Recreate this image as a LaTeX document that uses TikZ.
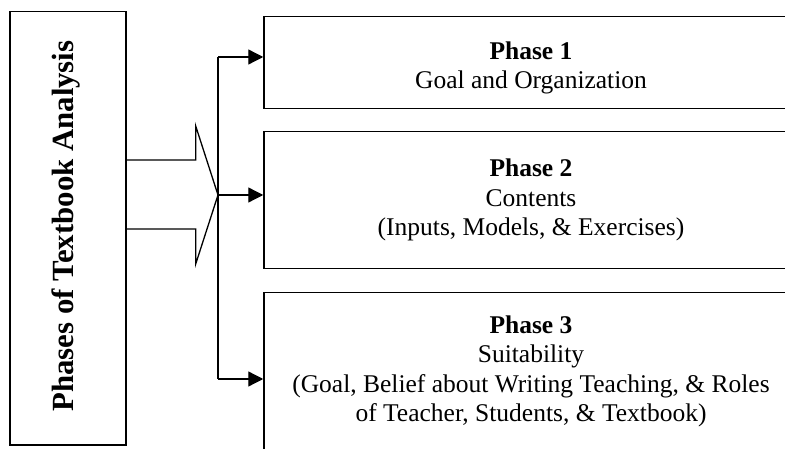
\documentclass[tikz,border=0pt]{standalone}
\usepackage{fontspec}
\setmainfont{Liberation Serif}
\usetikzlibrary{arrows.meta}
\begin{document}
\begin{tikzpicture}[x=1pt,y=-1pt,
  line width=1.5pt,
  phasebox/.style={draw, rectangle, minimum width=534pt, inner sep=0pt, align=center,
    font=\fontsize{25.5}{29.5}\selectfont},
  phasetext/.style={inner sep=0pt, align=center, font=\fontsize{25.5}{29.5}\selectfont},
  conn/.style={-{Triangle[length=15pt,width=15pt]}, line width=1.3pt},
]
\clip (0,0) rectangle (785,449);
\fill[white] (0,0) rectangle (785,449);
% left box
\node[draw, rectangle, minimum width=116pt, minimum height=433.5pt, inner sep=0pt] (L) at (68.2,228.2) {};
\node[rotate=90, font=\fontsize{30.8}{34}\bfseries\selectfont, anchor=center] (Lt) at (66,226) {Phases of Textbook Analysis};
% phase boxes
\node[phasebox, minimum height=91.6pt] (p1) at (531,62.5) {};
\node[phasetext] (p1t) at ([yshift=-5.5pt]p1.center) {\textbf{Phase 1}\\Goal and Organization};
\node[phasebox, minimum height=136.6pt] (p2) at (531,200) {\textbf{Phase 2}\\Contents\\(Inputs, Models, \& Exercises)};
\node[phasebox, minimum height=158pt] (p3) at (531,371.3) {\textbf{Phase 3}\\Suitability\\(Goal, Belief about Writing Teaching, \& Roles\\of Teacher, Students, \& Textbook)};
% block arrow
\coordinate (tip) at (218,195);
\draw[line width=1.3pt, line join=miter] (L.east |- 0,160) -- (195.7,160) -- (195.7,126) -- (tip) -- (195.7,264) -- (195.7,229) -- (L.east |- 0,229);
% vertical distributor
\coordinate (vt) at (218,57);
\coordinate (vb) at (218,379);
\draw[line width=1.3pt] (vt) -- (vb);
\draw[conn] (vt) -- (p1.west |- vt);
\draw[conn] (tip) -- (p2.west |- tip);
\draw[conn] (vb) -- (p3.west |- vb);
\end{tikzpicture}
\end{document}
